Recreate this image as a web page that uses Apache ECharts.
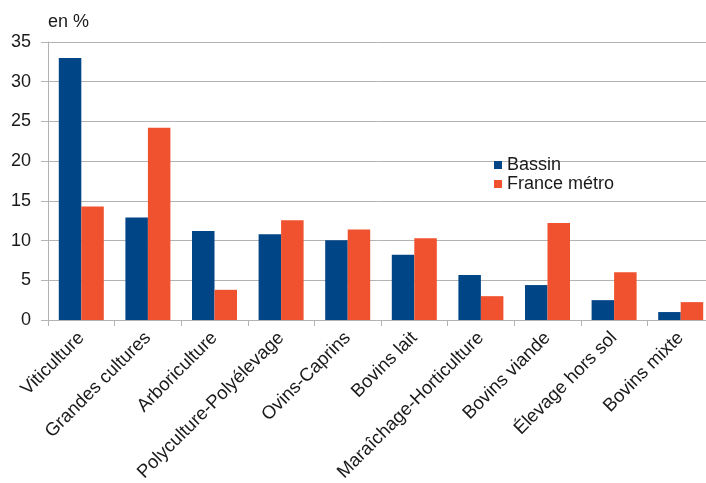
<!DOCTYPE html>
<html>
<head>
<meta charset="utf-8">
<script src="https://cdn.jsdelivr.net/npm/echarts@6/dist/echarts.min.js"></script>
<style>
  html, body { margin: 0; padding: 0; background: #fff; }
  #chart { width: 706px; height: 483px; }
</style>
</head>
<body>
<div id="chart"></div>
<script>
const categories = [
  "Viticulture", "Grandes cultures", "Arboriculture", "Polyculture-Polyélevage",
  "Ovins-Caprins", "Bovins lait", "Maraîchage-Horticulture", "Bovins viande",
  "Élevage hors sol", "Bovins mixte"
];
const bassin = [33.0, 12.9, 11.2, 10.8, 10.05, 8.2, 5.65, 4.4, 2.5, 1.0];
const franceMetro = [14.3, 24.2, 3.8, 12.55, 11.4, 10.3, 3.0, 12.2, 6.0, 2.25];
const yTicks = { min: 0, max: 35, interval: 5 };

const chart = echarts.init(document.getElementById("chart"), null, { renderer: "canvas" });
const font = "'Liberation Sans', Arial, sans-serif";
const ink = "#1a1a1a";
const rule = "#b3b3b3";

chart.setOption({
  animation: false,
  textStyle: { fontFamily: font },
  grid: {
    left: 48, top: 42, width: 666, height: 278,
    containLabel: false,
    outerBoundsMode: "none"
  },
  legend: {
    orient: "vertical",
    left: 494,
    top: 156,
    padding: 0,
    itemWidth: 8,
    itemHeight: 8,
    itemGap: 1,
    icon: "rect",
    textStyle: { fontSize: 18, color: ink, fontFamily: font },
    data: ["Bassin", "France métro"]
  },
  xAxis: {
    type: "category",
    data: categories,
    axisLine: { lineStyle: { color: rule, width: 1 } },
    axisTick: { show: true, length: 6, lineStyle: { color: rule } },
    axisLabel: {
      rotate: 45,
      interval: 0,
      margin: 15,
      fontSize: 18.5,
      color: ink,
      fontFamily: font
    },
    splitLine: { show: false }
  },
  yAxis: {
    type: "value",
    min: yTicks.min,
    max: yTicks.max,
    interval: yTicks.interval,
    name: "en %",
    nameLocation: "end",
    nameGap: 11,
    nameTextStyle: { fontSize: 18, color: ink, align: "left" },
    axisLine: { show: true, lineStyle: { color: rule } },
    axisTick: { show: true, length: 7, lineStyle: { color: rule } },
    axisLabel: { fontSize: 18, color: ink, margin: 17, fontFamily: font },
    splitLine: { lineStyle: { color: rule, width: 1 } }
  },
  series: [
    {
      name: "Bassin",
      type: "bar",
      data: bassin,
      barWidth: 22.5,
      barGap: "0%",
      itemStyle: { color: "#004586" }
    },
    {
      name: "France métro",
      type: "bar",
      data: franceMetro,
      barWidth: 22.5,
      barGap: "0%",
      itemStyle: { color: "#f0512e" }
    }
  ]
});
</script>
</body>
</html>
